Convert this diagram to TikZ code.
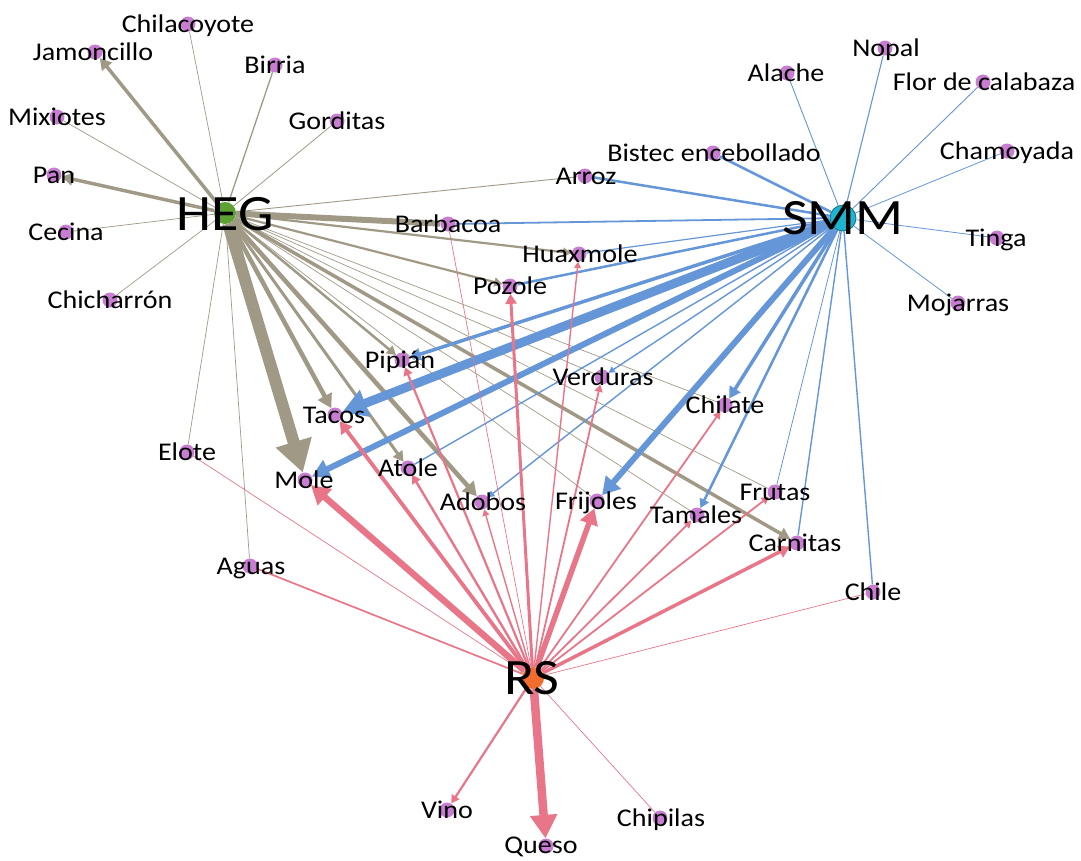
\documentclass[tikz,border=0pt]{standalone}
\usepackage{fontspec}
\setmainfont{Carlito}[FakeStretch=1.1]
\usetikzlibrary{arrows.meta,backgrounds}
\definecolor{hegc}{RGB}{160,153,134}
\definecolor{smmc}{RGB}{100,150,216}
\definecolor{rsc}{RGB}{232,118,136}
\definecolor{foodc}{RGB}{201,125,210}
\definecolor{hegdot}{RGB}{93,161,50}
\definecolor{smmdot}{RGB}{29,181,207}
\definecolor{rsdot}{RGB}{242,108,45}
\begin{document}
\begin{tikzpicture}[x=1pt,y=-1pt,
  food/.style={circle,fill=foodc,minimum size=15pt,inner sep=0pt},
  hub/.style={circle,minimum size=22pt,inner sep=0pt},
  lab/.style={anchor=base,font=\fontsize{25.5}{30}\selectfont,inner sep=0pt},
  biglab/.style={anchor=base,font=\fontsize{51}{60}\selectfont,inner sep=0pt},
  tip/.style={-{Triangle[length=3pt 2.4,width=3pt 2.7]}}]
\useasboundingbox (0,0) rectangle (1081,860);
% hubs
\node[hub,fill=hegdot] (HEG) at (225,213) {};
\node[hub,fill=smmdot,draw={rgb,255:red,20;green,110;blue,130},line width=0.8pt,minimum size=26pt] (SMM) at (843,218) {};
\node[hub,fill=rsdot] (RS) at (533,678) {};
% food nodes
\foreach \n/\x/\y in {chilacoyote/188/24, jamoncillo/95/52, birria/275/65, mixiotes/57/117,
  gorditas/337/121, pan/54/175, cecina/66/232, chicharron/110/300, arroz/585/176,
  bistec/713/153, barbacoa/448/224, huaxmole/579/254, pozole/510/286, alache/787/73,
  nopal/885/48, flor/983/82, chamoyada/1007/151, tinga/997/238, mojarras/958/303,
  pipian/402/360, tacos/335/415, elote/187/452, mole/305/480, atole/408/468,
  adobos/482/502, verduras/602/377, chilate/725/405, frijoles/597/501, tamales/697/515,
  frutas/775/492, carnitas/797/543, chile/873/592, aguas/250/566, vino/447/810,
  queso/546/846, chipilas/660/818}
  {\node[food] (\n) at (\x,\y) {};}
% edges
\begin{scope}[on background layer]
\foreach \t/\w in {birria/1.3, chilacoyote/0.7, gorditas/0.8, mixiotes/0.7, cecina/0.7,
  chicharron/0.7, elote/0.7, aguas/0.7, arroz/0.9, verduras/0.7, chilate/0.7,
  frutas/0.7, tamales/0.7, frijoles/0.7, barbacoa/6}
  {\draw[hegc,line width=\w pt] (HEG) -- (\t);}
\foreach \t/\w in {jamoncillo/3.5, pan/3.5, huaxmole/2.2, pozole/2.2, pipian/2.5,
  atole/3, carnitas/3.5, adobos/4.5, tacos/4.5, mole/12}
  {\draw[hegc,line width=\w pt,tip] (HEG) -- (\t);}
\foreach \t/\w in {pozole/2.5, huaxmole/1.2, barbacoa/1.8, arroz/2.5, bistec/2.5, atole/1.4,
  frutas/0.8, carnitas/1.4, chile/1.4, alache/0.9, nopal/1.1, flor/0.9, chamoyada/0.8,
  tinga/0.8, mojarras/0.8}
  {\draw[smmc,line width=\w pt] (SMM) -- (\t);}
\foreach \t/\w in {verduras/1.4, adobos/1.4, tamales/2.5, chilate/3.5, pipian/3.5,
  frijoles/6, mole/6, tacos/9}
  {\draw[smmc,line width=\w pt,tip] (SMM) -- (\t);}
\foreach \t/\w in {aguas/1.7, barbacoa/0.7, elote/0.7, chipilas/0.7, chile/0.7}
  {\draw[rsc,line width=\w pt] (RS) -- (\t);}
\foreach \t/\w in {huaxmole/1.4, adobos/1.4, verduras/1.8, chilate/1.8, tamales/1.8,
  frutas/1.8, vino/2.2, pipian/2.2, atole/2.4, pozole/3, tacos/3.8, carnitas/3.5,
  frijoles/5.5, mole/6.5, queso/8.5}
  {\draw[rsc,line width=\w pt,tip] (RS) -- (\t);}
\end{scope}
% labels
\foreach \n/\x/\y/\t in {chilacoyote/188/24/Chilacoyote, jamoncillo/93/52/Jamoncillo,
  birria/275/65/Birria, mixiotes/57/117/Mixiotes, gorditas/337/121/Gorditas,
  pan/54/175/Pan, cecina/66/232/Cecina, chicharron/110/300/Chicharrón,
  arroz/586/176/Arroz, bistec/714/153/Bistec encebollado, barbacoa/448/224/Barbacoa,
  huaxmole/580/254/Huaxmole, pozole/510/286/Pozole, alache/786/73/Alache,
  nopal/886/48/Nopal, flor/984/82/Flor de calabaza, chamoyada/1007/151/Chamoyada,
  tinga/996/238/Tinga, mojarras/958/303/Mojarras, pipian/400/360/Pipián,
  tacos/334/415/Tacos, elote/187/452/Elote, mole/304/480/Mole, atole/408/468/Atole,
  adobos/483/502/Adobos, verduras/603/377/Verduras, chilate/725/405/Chilate,
  frijoles/596/501/Frijoles, tamales/696/515/Tamales, frutas/775/492/Frutas,
  carnitas/795/543/Carnitas, chile/873/592/Chile, aguas/251/566/Aguas,
  vino/447/810/Vino, queso/541/845/Queso, chipilas/661/818/Chipilas}
  {\node[lab] (\n-l) at (\x,\y+8) {\t};}
\node[biglab] (HEG-l) at (225,230) {HEG};
\node[biglab] (SMM-l) at (843,234) {SMM};
\node[biglab] (RS-l) at (532,694) {RS};
\end{tikzpicture}
\end{document}
